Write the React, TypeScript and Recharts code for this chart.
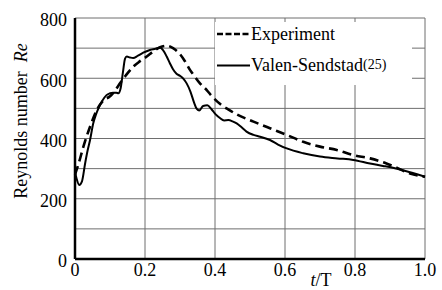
import React from 'react';
import { LineChart, Line, XAxis, YAxis, CartesianGrid, Legend, Label } from 'recharts';

const xTicks = [0, 0.2, 0.4, 0.6, 0.8, 1.0];
const yTicks = [0, 100, 200, 300, 400, 500, 600, 700, 800];

const experimentT = [0, 0.01, 0.024, 0.043, 0.062, 0.08, 0.1, 0.115, 0.129, 0.147, 0.166, 0.185, 0.205, 0.225, 0.243, 0.263, 0.28, 0.3, 0.315, 0.329, 0.338, 0.357, 0.377, 0.39, 0.414, 0.44, 0.462, 0.51, 0.557, 0.605, 0.652, 0.7, 0.748, 0.795, 0.843, 0.89, 0.914, 0.957, 1.0];
const experimentRe = [280, 315, 373, 439, 494, 525, 540, 560, 584, 612, 638, 656, 672, 690, 703, 708, 700, 680, 655, 627, 612, 583, 560, 542, 515, 495, 480, 456, 434, 412, 389, 373, 362, 345, 334, 317, 306, 284, 273];

const valenT = [0, 0.005, 0.012, 0.02, 0.029, 0.036, 0.043, 0.052, 0.06, 0.067, 0.078, 0.09, 0.1, 0.11, 0.118, 0.124, 0.13, 0.137, 0.143, 0.148, 0.157, 0.166, 0.18, 0.195, 0.214, 0.23, 0.243, 0.251, 0.262, 0.271, 0.28, 0.29, 0.3, 0.31, 0.319, 0.33, 0.34, 0.348, 0.355, 0.366, 0.378, 0.39, 0.402, 0.414, 0.426, 0.438, 0.45, 0.462, 0.476, 0.49, 0.51, 0.529, 0.557, 0.58, 0.605, 0.652, 0.7, 0.75, 0.795, 0.843, 0.88, 0.914, 0.957, 1.0];
const valenRe = [290, 265, 246, 258, 318, 360, 395, 450, 480, 500, 525, 544, 550, 552, 552, 550, 565, 620, 665, 672, 669, 667, 675, 685, 694, 698, 702, 694, 672, 650, 630, 615, 608, 598, 583, 555, 520, 498, 493, 508, 510, 497, 480, 468, 460, 461, 457, 450, 437, 423, 412, 406, 395, 380, 367, 351, 340, 334, 329, 317, 309, 301, 288, 273];

const experimentData = experimentT.map((t, i) => ({ t, re: experimentRe[i] }));
const valenData = valenT.map((t, i) => ({ t, re: valenRe[i] }));

const FONT = 'Liberation Serif';
const textStyle = { fontFamily: FONT };

const renderLegend = () => (
  <svg width={197} height={63} style={{ display: 'block', background: '#fff' }}>
    <line x1={2} x2={35} y1={12} y2={12} stroke="#000" strokeWidth={2.5} strokeDasharray="6 2.5" />
    <text x={36} y={18} fontFamily={FONT} style={textStyle} fontSize={18} fill="#000">Experiment</text>
    <line x1={2} x2={35} y1={43.5} y2={43.5} stroke="#000" strokeWidth={2} />
    <text x={36} y={49} fontFamily={FONT} style={textStyle} fontSize={18} fill="#000">
      Valen-Sendstad<tspan fontSize={14} dy={-2}>(25)</tspan>
    </text>
  </svg>
);

const YLabel = () => (
  <text x={27} y={121} transform="rotate(-90 27 121)" textAnchor="middle" fontFamily={FONT} style={textStyle} fontSize={18} fill="#000">
    Reynolds number{'\u00A0\u00A0'}<tspan fontStyle="italic">Re</tspan>
  </text>
);

const XLabel = () => (
  <text x={321} y={286} textAnchor="middle" fontFamily={FONT} style={textStyle} fontSize={18} fill="#000">
    <tspan fontStyle="italic">t</tspan>/T
  </text>
);

const fmtX = (v: number) => (v === 0 ? '0' : v.toFixed(1));
const fmtY = (v: number) => (v % 200 === 0 ? String(v) : '');

export default function App() {
  return (
    <div style={{ position: 'absolute', left: 0, top: 0, background: '#fff', fontFamily: FONT }}>
      <LineChart width={442} height={290} margin={{ top: 18, right: 17, bottom: 0, left: 0 }} style={{ fontFamily: FONT }}>
        <CartesianGrid stroke="#6e6e6e" strokeWidth={1} />
        <XAxis
          type="number"
          dataKey="t"
          domain={[0, 1]}
          ticks={xTicks}
          interval={0}
          tickFormatter={fmtX}
          height={31}
          axisLine={{ stroke: '#000', strokeWidth: 2.5 }}
          tickLine={false}
          tickSize={0}
          tickMargin={4}
          tick={{ fill: '#000', fontSize: 18, fontFamily: FONT, style: textStyle }}
        >
          <Label content={XLabel} />
        </XAxis>
        <YAxis
          type="number"
          domain={[0, 800]}
          ticks={yTicks}
          interval={0}
          tickFormatter={fmtY}
          width={75}
          axisLine={{ stroke: '#000', strokeWidth: 2.5 }}
          tickLine={false}
          tickSize={0}
          tickMargin={8}
          tick={{ fill: '#000', fontSize: 18, fontFamily: FONT, style: textStyle, dy: 2 }}
        >
          <Label content={YLabel} />
        </YAxis>
        <Legend
          layout="vertical"
          align="center"
          verticalAlign="middle"
          wrapperStyle={{ left: 215, top: 22, width: 197, height: 63, background: '#fff', padding: 0 }}
          content={renderLegend}
        />
        <Line data={experimentData} dataKey="re" type="monotone" stroke="#000" strokeWidth={2.6} strokeDasharray="9 5" dot={false} isAnimationActive={false} />
        <Line data={valenData} dataKey="re" type="monotone" stroke="#000" strokeWidth={2} dot={false} isAnimationActive={false} />
      </LineChart>
    </div>
  );
}
